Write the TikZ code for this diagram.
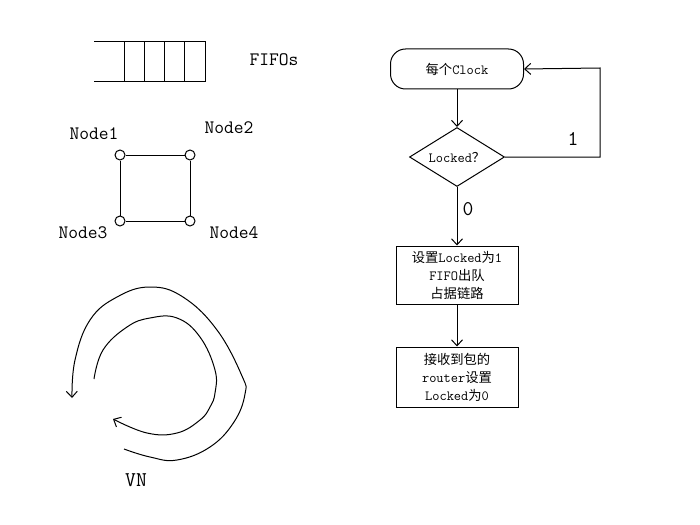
\documentclass[tikz,border=0pt]{standalone}
\usepackage{fontspec}
\usepackage{tikz}
\usetikzlibrary{arrows.meta,shapes.geometric}
\newfontfamily\cjk{Noto Sans CJK SC}[Scale=0.95]
\newcommand{\fcfont}{\fontsize{14}{18}\selectfont\ttfamily}
\newcommand{\lblfont}{\fontsize{19}{22}\selectfont\ttfamily}

\begin{document}
\begin{tikzpicture}[x=1pt,y=-1pt,line width=1pt,
  fcarrow/.style={-{Straight Barb[length=6pt,width=11pt]}},
  fcbox/.style={draw,minimum width=122pt,align=center,font=\fcfont},
  portcirc/.style={draw,circle,fill=white,minimum size=10pt,inner sep=0pt},
  lbl/.style={font=\lblfont}]
  \useasboundingbox (0,0) rectangle (700,524);
  % FIFO queue
  \draw (94,42) -- (205,42) -- (205,82) -- (94,82);
  \foreach \x in {124,144,164,184} {
    \draw (\x,42) -- (\x,82);
  }
  \node[lbl] (fifo) at (274,60) {FIFOs};
  % four nodes
  \node[portcirc] (n1) at (120,155) {};
  \node[portcirc] (n2) at (190,155) {};
  \node[portcirc] (n3) at (120,221) {};
  \node[portcirc] (n4) at (190,221) {};
  \draw (n1) -- (n2) -- (n4) -- (n3) -- (n1);
  \node[lbl] (l1) at (94,134) {Node1};
  \node[lbl] (l2) at (229,128) {Node2};
  \node[lbl] (l3) at (83,233) {Node3};
  \node[lbl] (l4) at (234,233) {Node4};
  % VN rings
  \draw[fcarrow] plot[smooth,tension=0.7] coordinates {(124,449) (150,457) (177,460) (210,447) (234,422)
    (245,394) (242,376) (217,330) (183,297) (150,287) (117,297) (90,320) (75,360) (72,398)};
  \draw[fcarrow] plot[smooth,tension=0.7] coordinates {(94,379) (103,350) (127,327) (150,318) (177,318)
    (200,337) (215,370) (215,393) (210,407) (200,420) (177,433) (147,433) (113,419)};
  \node[font=\fontsize{21}{24}\selectfont\ttfamily] (vn) at (136,480) {VN};
  % flow chart
  \node[draw,rounded corners=15pt,minimum width=133pt,minimum height=40pt,font=\fcfont]
    (clock) at (457,69) {{\cjk 每个}Clock};
  \node[draw,shape=diamond,aspect=1.61,inner sep=0pt,minimum width=95pt,minimum height=59pt,font=\fcfont]
    (dec) at (457,157) {Locked{\cjk ？}};
  \node[fcbox,minimum height=58pt] (lock) at (457,275)
    {{\cjk 设置}Locked{\cjk 为}1\\FIFO{\cjk 出队}\\{\cjk 占据链路}};
  \node[fcbox,minimum height=60pt] (unlock) at (457,377)
    {{\cjk 接收到包的}\\router{\cjk 设置}\\Locked{\cjk 为}0};
  \coordinate (loopc) at (600,68);
  \draw[fcarrow] (clock) -- (dec);
  \draw[fcarrow] (dec) -- (lock);
  \draw[fcarrow] (lock) -- (unlock);
  \draw[fcarrow] (dec.east) -| (loopc) -- (clock.east);
  \node[font=\fontsize{21}{24}\selectfont\ttfamily] (one) at (573,139) {1};
  \node[font=\fontsize{21}{24}\selectfont\ttfamily] (zero) at (468,209) {0};
\end{tikzpicture}
\end{document}
